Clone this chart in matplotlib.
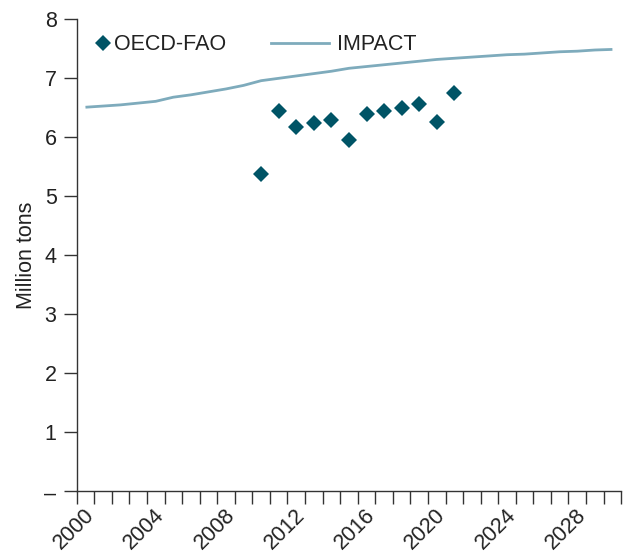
import matplotlib
matplotlib.use("Agg")
import matplotlib.pyplot as plt
from matplotlib.lines import Line2D
from matplotlib.transforms import ScaledTranslation

plt.rcParams['font.family'] = ['Liberation Sans', 'DejaVu Sans']

# IMPACT projection, annual values
impact_years = list(range(2000, 2031))
impact_values = [6.51, 6.53, 6.55, 6.58, 6.61, 6.68, 6.72, 6.77, 6.82, 6.88,
                 6.96, 7.00, 7.04, 7.08, 7.12, 7.17, 7.20, 7.23, 7.26, 7.29,
                 7.32, 7.34, 7.36, 7.38, 7.40, 7.41, 7.43, 7.45, 7.46, 7.48,
                 7.49]

# OECD-FAO estimates
oecd_years = list(range(2010, 2022))
oecd_values = [5.38, 6.44, 6.17, 6.24, 6.29, 5.95, 6.39, 6.44, 6.50, 6.57,
               6.26, 6.75]

year_labels = [2000, 2004, 2008, 2012, 2016, 2020, 2024, 2028]
y_ticks = [0, 1, 2, 3, 4, 5, 6, 7, 8]
y_tick_labels = ['–', '1', '2', '3', '4', '5', '6', '7', '8']

dark_teal = '#005466'
light_blue = '#7eabbc'
axis_gray = '#333333'
text_gray = '#222222'
fs = 15.5

fig = plt.figure(figsize=(6.23, 5.57), dpi=100)
ax = fig.add_axes([0.1231, 0.118, 0.874, 0.8473])

ax.plot(impact_years, impact_values, color=light_blue, lw=2.0,
        solid_capstyle='butt', zorder=2)
ax.plot(oecd_years, oecd_values, linestyle='none', marker='D', ms=8,
        mew=0, color=dark_teal, zorder=3)

ax.set_xlim(1999.5, 2030.5)
ax.set_ylim(0, 8)

for side in ('top', 'right'):
    ax.spines[side].set_visible(False)
for side in ('left', 'bottom'):
    ax.spines[side].set_color(axis_gray)
    ax.spines[side].set_linewidth(1.0)

# Year boundaries carry the tick marks; year centres carry the labels
ax.set_xticks([y - 0.5 for y in range(2000, 2032)])
ax.set_xticklabels([])
ax.set_xticks(year_labels, minor=True)
ax.set_xticklabels([str(y) for y in year_labels], minor=True, rotation=45,
                   rotation_mode='anchor', ha='right', va='center',
                   fontsize=fs, color=text_gray)
ax.tick_params(axis='x', which='major', direction='out', length=9.5,
               width=1.0, color=axis_gray)
ax.tick_params(axis='x', which='minor', length=0, pad=15)
shift = ScaledTranslation(4 / 72, 0, fig.dpi_scale_trans)
for lbl in ax.get_xticklabels(minor=True):
    lbl.set_transform(lbl.get_transform() + shift)

ax.set_yticks(y_ticks)
ax.set_yticklabels(y_tick_labels, fontsize=fs, color=text_gray)
ax.tick_params(axis='y', direction='out', length=9.5, width=1.0,
               color=axis_gray, pad=5)

ax.set_ylabel('Million tons', fontsize=fs, color=text_gray, labelpad=5.5)

h_oecd = Line2D([], [], linestyle='none', marker='D', ms=8, mew=0,
                color=dark_teal)
h_impact = Line2D([], [], color=light_blue, lw=2.0)

leg1 = ax.legend([h_oecd], ['OECD-FAO'], loc='upper left',
                 bbox_to_anchor=(0.0, 1.0), frameon=False, fontsize=fs,
                 handlelength=1.0, handletextpad=0.05, borderaxespad=0.3)
for t in leg1.get_texts():
    t.set_color(text_gray)
ax.add_artist(leg1)

leg2 = ax.legend([h_impact], ['IMPACT'], loc='upper left',
                 bbox_to_anchor=(0.3295, 1.0), frameon=False, fontsize=fs,
                 handlelength=2.7, handletextpad=0.35, borderaxespad=0.3)
for t in leg2.get_texts():
    t.set_color(text_gray)

fig.savefig('out.png', dpi=100)
